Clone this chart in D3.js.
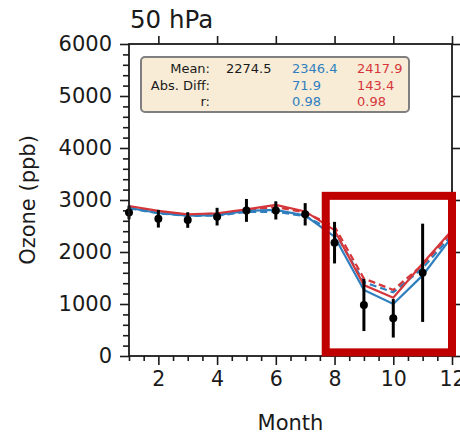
<!DOCTYPE html>
<html>
<head>
<meta charset="utf-8">
<script src="https://cdn.jsdelivr.net/npm/d3@7/dist/d3.min.js"></script>
<style>
  html, body { margin: 0; padding: 0; background: #fff; }
  svg { display: block; font-family: "DejaVu Sans", sans-serif; }
</style>
</head>
<body>
<svg id="chart" width="460" height="435"></svg>
<script>
// Monthly ozone at 50 hPa: observations with spread, two model runs (solid / dashed each)
const months = [1, 2, 3, 4, 5, 6, 7, 8, 9, 10, 11, 12];
const obsMonths = [1, 2, 3, 4, 5, 6, 7, 8, 9, 10, 11];
const obsMean = [2760, 2640, 2615, 2680, 2800, 2800, 2725, 2180, 980, 725, 1600];
const obsErr  = [130, 170, 150, 170, 220, 175, 215, 400, 500, 370, 945];

const redSolid   = [2885, 2790, 2725, 2745, 2820, 2905, 2780, 2420, 1365, 1120, 1780, 2420];
const redDashed  = [2870, 2775, 2715, 2735, 2805, 2865, 2760, 2490, 1490, 1270, 1755, 2385];
const blueSolid  = [2850, 2750, 2700, 2710, 2790, 2810, 2700, 2295, 1270, 1000, 1550, 2295];
const blueDashed = [2840, 2745, 2695, 2700, 2770, 2775, 2690, 2385, 1420, 1225, 1690, 2325];

const yTicks = [0, 1000, 2000, 3000, 4000, 5000, 6000];
const xTicks = [2, 4, 6, 8, 10, 12];

const statRows = ["Mean:", "Abs. Diff:", "r:"];
const statObs  = ["2274.5", "", ""];
const statBlue = ["2346.4", "71.9", "0.98"];
const statRed  = ["2417.9", "143.4", "0.98"];

// Highlighted window (month range, ozone range)
const boxMonths = [7.7, 12.0];
const boxOzone  = [70, 3080];

const BLUE = "#2f7fbf";
const RED = "#d5363a";
const INK = "#1a1a1a";

const svg = d3.select("#chart");
const m = { left: 129, right: 452, top: 44, bottom: 356 };

const x = d3.scaleLinear().domain([1, 12]).range([m.left, m.right]);
const y = d3.scaleLinear().domain([0, 6000]).range([m.bottom, m.top]);

svg.append("defs").append("clipPath").attr("id", "plotclip")
  .append("rect").attr("x", m.left).attr("y", m.top)
  .attr("width", m.right - m.left).attr("height", m.bottom - m.top);

// Axes: minor ticks first, then majors with labels
function styleAxis(g) {
  g.select(".domain").remove();
  g.selectAll(".tick line").attr("stroke", INK).attr("stroke-width", 1.6);
  g.selectAll(".tick text").attr("fill", INK).style("font-family", "DejaVu Sans, sans-serif");
}

const minorX = d3.range(1, 12.01, 0.5).filter(v => !xTicks.includes(v));
svg.append("g").attr("transform", `translate(0,${m.bottom})`)
  .call(d3.axisBottom(x).tickValues(minorX).tickSize(5).tickFormat(""))
  .call(styleAxis);
svg.append("g").attr("transform", `translate(0,${m.bottom})`)
  .call(d3.axisBottom(x).tickValues(xTicks).tickSize(9).tickPadding(6).tickFormat(d3.format("d")))
  .call(styleAxis)
  .selectAll("text").style("font-size", "20.5px");

svg.append("g").attr("transform", `translate(0,${m.top})`)
  .call(d3.axisTop(x).tickValues(xTicks).tickSize(8).tickFormat(""))
  .call(styleAxis);

const minorY = d3.range(0, 6001, 200).filter(v => !yTicks.includes(v));
svg.append("g").attr("transform", `translate(${m.left},0)`)
  .call(d3.axisLeft(y).tickValues(minorY).tickSize(6).tickFormat(""))
  .call(styleAxis);
svg.append("g").attr("transform", `translate(${m.left},0)`)
  .call(d3.axisLeft(y).tickValues(yTicks).tickSize(9).tickPadding(8).tickFormat(d3.format("d")))
  .call(styleAxis)
  .selectAll("text").style("font-size", "21px");

svg.append("g").attr("transform", `translate(${m.right},0)`)
  .call(d3.axisRight(y).tickValues(yTicks).tickSize(9).tickFormat(""))
  .call(styleAxis);

// Model curves
const plot = svg.append("g").attr("clip-path", "url(#plotclip)");
const line = d3.line().x((d, i) => x(months[i])).y(d => y(d));
const series = [
  { v: blueDashed, c: BLUE, dash: "7,4" },
  { v: redDashed,  c: RED,  dash: "7,4" },
  { v: blueSolid,  c: BLUE, dash: null },
  { v: redSolid,   c: RED,  dash: null }
];
series.forEach(s => {
  plot.append("path").datum(s.v)
    .attr("d", line).attr("fill", "none")
    .attr("stroke", s.c).attr("stroke-width", 2.2)
    .attr("stroke-dasharray", s.dash);
});

// Observations with error bars
const obs = svg.append("g");
obs.selectAll("line.err").data(obsMean).join("line")
  .attr("class", "err")
  .attr("x1", (d, i) => x(obsMonths[i])).attr("x2", (d, i) => x(obsMonths[i]))
  .attr("y1", (d, i) => y(d - obsErr[i])).attr("y2", (d, i) => y(d + obsErr[i]))
  .attr("stroke", "#000").attr("stroke-width", 3);
obs.selectAll("circle").data(obsMean).join("circle")
  .attr("cx", (d, i) => x(obsMonths[i])).attr("cy", d => y(d))
  .attr("r", 4).attr("fill", "#000");

// Frame
svg.append("rect").attr("x", m.left).attr("y", m.top)
  .attr("width", m.right - m.left).attr("height", m.bottom - m.top)
  .attr("fill", "none").attr("stroke", INK).attr("stroke-width", 1.8);

// Statistics panel
const panel = svg.append("g");
panel.append("rect").attr("x", 141).attr("y", 57).attr("width", 268).attr("height", 55)
  .attr("rx", 4).attr("fill", "#f8ecd7").attr("stroke", "#7f7f7f").attr("stroke-width", 2);
const rowY = [73, 89.5, 106];
statRows.forEach((t, i) => {
  panel.append("text").attr("x", 210).attr("y", rowY[i]).attr("text-anchor", "end")
    .attr("fill", INK).style("font-size", "13px").text(t);
  panel.append("text").attr("x", 226).attr("y", rowY[i])
    .attr("fill", INK).style("font-size", "13px").text(statObs[i]);
  panel.append("text").attr("x", 292).attr("y", rowY[i])
    .attr("fill", BLUE).style("font-size", "13px").text(statBlue[i]);
  panel.append("text").attr("x", 357).attr("y", rowY[i])
    .attr("fill", RED).style("font-size", "13px").text(statRed[i]);
});

// Highlight box over the autumn minimum
svg.append("rect")
  .attr("x", x(boxMonths[0])).attr("y", y(boxOzone[1]))
  .attr("width", x(boxMonths[1]) - x(boxMonths[0]))
  .attr("height", y(boxOzone[0]) - y(boxOzone[1]))
  .attr("fill", "none").attr("stroke", "#c00000").attr("stroke-width", 8);

// Titles
svg.append("text").attr("x", 130).attr("y", 28).attr("fill", INK)
  .style("font-size", "24.5px").text("50 hPa");
svg.append("text").attr("x", (m.left + m.right) / 2).attr("y", 430)
  .attr("text-anchor", "middle").attr("fill", INK)
  .style("font-size", "21px").text("Month");
svg.append("text").attr("transform", `translate(35,${(m.top + m.bottom) / 2}) rotate(-90)`)
  .attr("text-anchor", "middle").attr("fill", INK)
  .style("font-size", "21px").text("Ozone (ppb)");
</script>
</body>
</html>
